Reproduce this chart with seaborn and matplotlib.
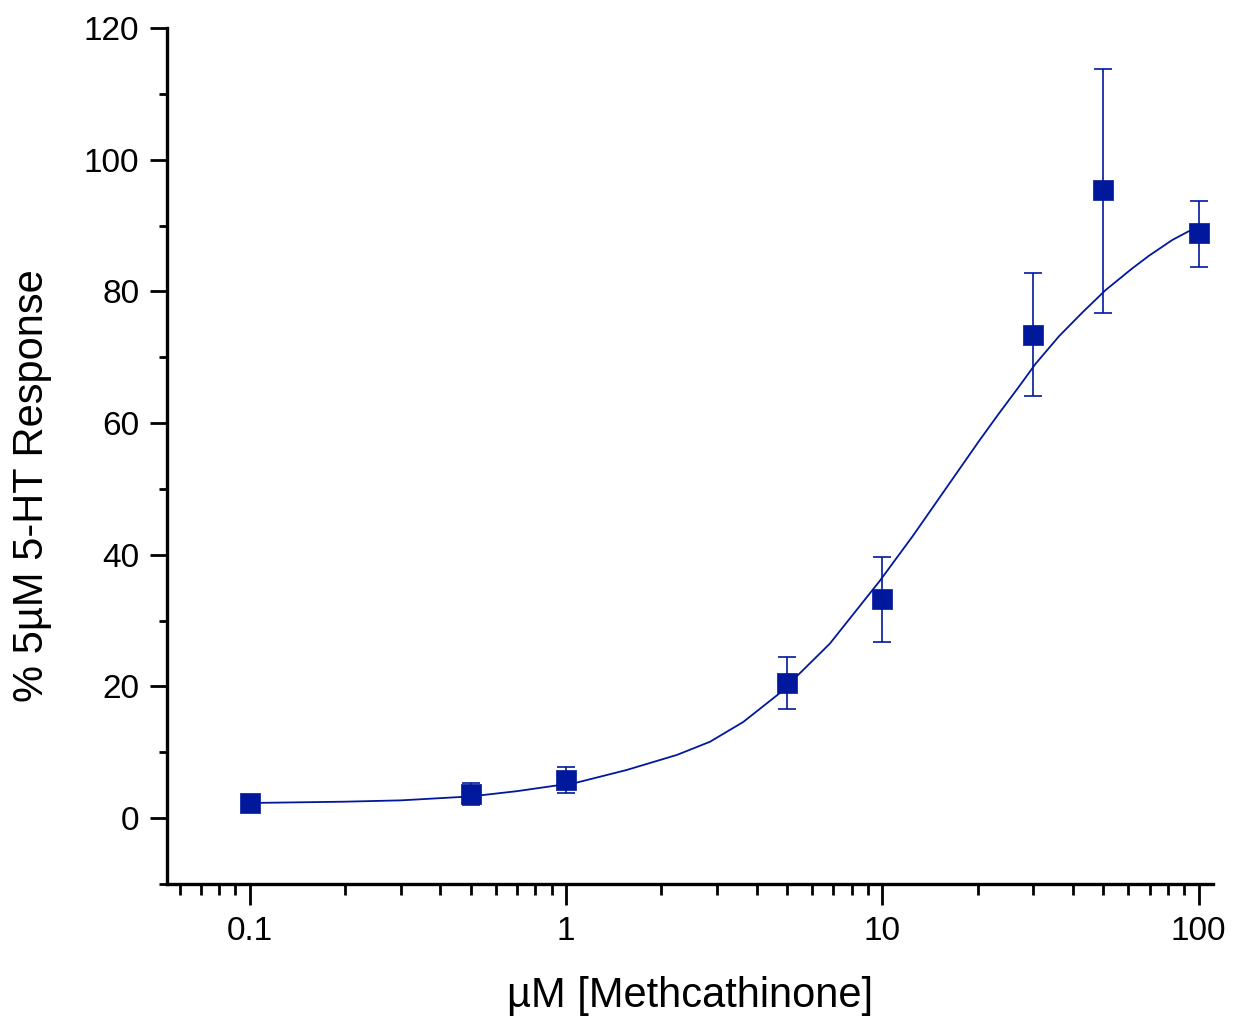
import seaborn as sns
import matplotlib.pyplot as plt
import pandas as pd
from matplotlib.ticker import LogLocator, MultipleLocator, FixedLocator, NullFormatter

# measured points
conc = [0.1, 0.5, 1, 5, 10, 30, 50, 100]
response = [2.3, 3.6, 5.8, 20.6, 33.3, 73.4, 95.4, 88.9]
err_up = [0.0, 1.7, 1.9, 3.9, 6.4, 9.4, 18.4, 4.9]
err_down = [0.0, 1.6, 2.0, 4.0, 6.6, 9.3, 18.7, 5.2]

# fitted curve
fit_x = [0.1, 0.2, 0.3, 0.5, 0.7, 1.08, 1.55, 2.24, 2.85, 3.63, 4.74, 5.35, 6.82,
         9.8, 12.5, 15.9, 20.3, 23.4, 27.1, 30.5, 36.2, 42.9, 50.8, 61.7, 69.6,
         82.5, 95.3, 100]
fit_y = [2.3, 2.5, 2.7, 3.3, 4.1, 5.4, 7.3, 9.6, 11.6, 14.6, 19.0, 21.5, 26.5,
         36.0, 42.9, 50.1, 57.4, 61.5, 65.6, 69.0, 73.2, 76.8, 80.2, 83.5, 85.4,
         87.8, 89.4, 89.6]

pts = pd.DataFrame({"conc": conc, "response": response})
fit = pd.DataFrame({"conc": fit_x, "response": fit_y})

navy = "#00189C"

sns.set_style("ticks")
plt.rcParams['font.family'] = ['Liberation Sans', 'DejaVu Sans']
plt.rcParams['text.color'] = 'black'
plt.rcParams['axes.labelcolor'] = 'black'
plt.rcParams['xtick.color'] = 'black'
plt.rcParams['ytick.color'] = 'black'

fig = plt.figure(figsize=(12.41, 10.19), dpi=100)
ax = fig.add_axes([0.1346, 0.1325, 0.9774 - 0.1346, 0.9725 - 0.1325])

sns.lineplot(data=fit, x="conc", y="response", color=navy, linewidth=1.3, ax=ax)
ax.errorbar(conc, response, yerr=[err_down, err_up], fmt="none", ecolor=navy,
            elinewidth=1.2, capsize=6.5, capthick=1.2, zorder=3)
sns.scatterplot(data=pts, x="conc", y="response", marker="s", s=190, color=navy,
                edgecolor=navy, linewidth=0.5, zorder=4, ax=ax)

ax.set_xscale("log")
ax.set_xlim(0.0547, 111)
ax.set_ylim(-10, 120)

ax.xaxis.set_major_locator(FixedLocator([0.1, 1, 10, 100]))
ax.set_xticklabels(["0.1", "1", "10", "100"])
ax.xaxis.set_minor_locator(LogLocator(base=10, subs=range(2, 10), numticks=20))
ax.xaxis.set_minor_formatter(NullFormatter())
ax.yaxis.set_major_locator(MultipleLocator(20))
ax.yaxis.set_minor_locator(MultipleLocator(10))

for s in ["top", "right"]:
    ax.spines[s].set_visible(False)
for s in ["left", "bottom"]:
    ax.spines[s].set_linewidth(2.4)
    ax.spines[s].set_color("black")

ax.tick_params(axis="y", which="major", direction="out", length=12, width=2, labelsize=24, pad=8)
ax.tick_params(axis="y", which="minor", direction="out", length=6, width=2)
ax.tick_params(axis="x", which="major", direction="out", length=15, width=2, labelsize=24, pad=8)
ax.tick_params(axis="x", which="minor", direction="out", length=8, width=2)

ax.set_xlabel("µM [Methcathinone]", fontsize=30)
ax.set_ylabel("% 5µM 5-HT Response", fontsize=30)
ax.xaxis.set_label_coords(0.5, -0.108)
ax.yaxis.set_label_coords(-0.11, 0.465)

fig.savefig("out.png", dpi=100)
